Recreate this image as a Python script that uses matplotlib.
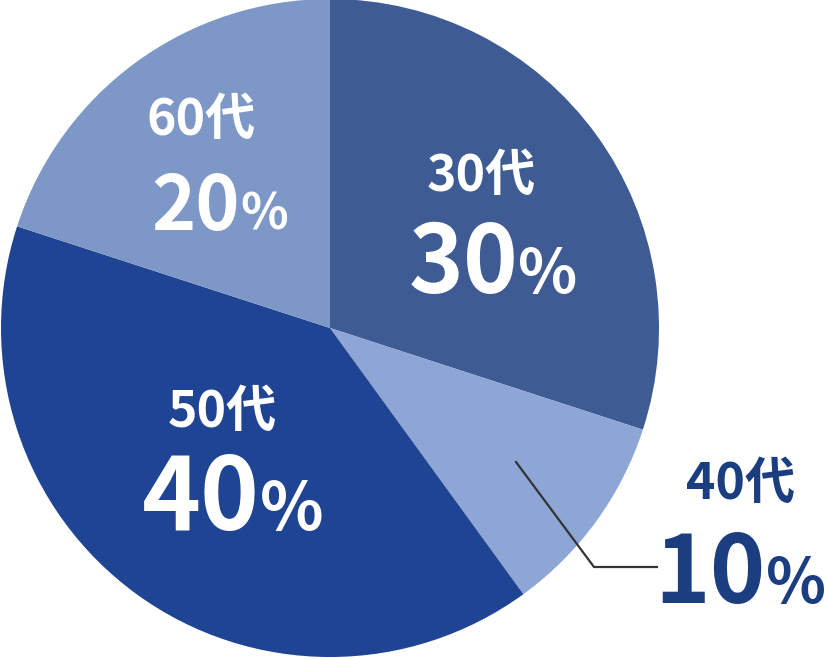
import matplotlib.pyplot as plt

plt.rcParams['font.family'] = ['Noto Sans CJK JP', 'DejaVu Sans']

# data
ages = ['30代', '40代', '50代', '60代']
shares = [30, 10, 40, 20]
colors = ['#3f5b93', '#8da6d6', '#1e4493', '#7d98c7']

W, H = 828, 659
fig = plt.figure(figsize=(W / 100, H / 100), dpi=100)
ax = fig.add_axes([0, 0, 1, 1])

ax.pie(shares, colors=colors, startangle=90, counterclock=False,
       center=(330, H - 328), radius=329, frame=True,
       wedgeprops=dict(linewidth=0))
ax.set_xlim(0, W)
ax.set_ylim(0, H)
ax.set_aspect('equal')
ax.axis('off')

# label placement in image pixels: (age label centre, percent split x, baseline y, size)
lab = {
    '30代': ((481, 176), 518, 293, 67, 'white'),
    '40代': ((741, 484), 766, 603, 68, '#1b3e80'),
    '50代': ((222, 412), 260, 530, 72, 'white'),
    '60代': ((201, 120), 240, 230, 54, 'white'),
}

for a, s in zip(ages, shares):
    (cx, cy), sx, by, fs, col = lab[a]
    ax.text(cx, H - cy, a, fontsize=36, fontweight='bold', color=col,
            ha='center', va='center')
    ax.text(sx, H - by, str(s), fontsize=fs, fontweight='bold', color=col,
            ha='right', va='baseline')
    ax.text(sx, H - by, '%', fontsize=fs * 0.66, fontweight='bold', color=col,
            ha='left', va='baseline')

# leader line for 40代
ax.plot([516, 594, 657], [H - 462, H - 567, H - 567], color='#333333', lw=1.6,
        solid_joinstyle='miter')

fig.savefig('out.png', dpi=100, facecolor='white')
